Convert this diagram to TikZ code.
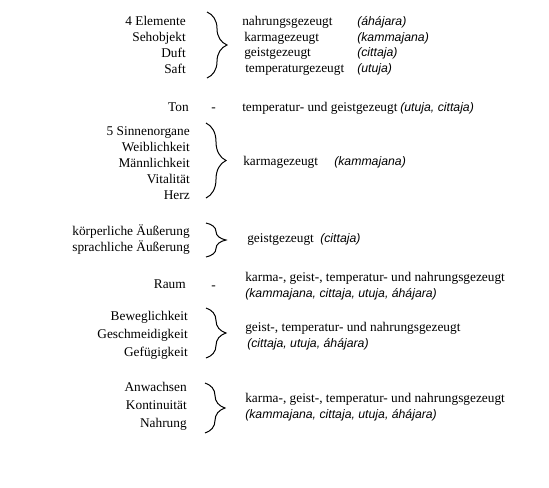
\documentclass[tikz,border=0pt]{standalone}
\usepackage{fontspec}
\setmainfont{Liberation Serif}
\newfontfamily\kursiv{Liberation Sans}
\usetikzlibrary{positioning,decorations.pathreplacing}

\begin{document}
\begin{tikzpicture}[x=.75pt,y=-.75pt,
    links/.style={anchor=mid east,inner sep=0pt,font=\fontsize{10}{12}\selectfont},
    rechts/.style={anchor=mid west,inner sep=0pt,font=\fontsize{10}{12}\selectfont},
    klammer/.style={decorate,decoration={brace,amplitude=15pt},line width=.75pt}]
    \newcommand{\pali}[1]{{\kursiv\itshape\fontsize{9.2}{11}\selectfont #1}}
    \useasboundingbox (0,0) rectangle (549,487);
    % Gruppe 1
    \foreach \t [count=\i] in {4 Elemente,Sehobjekt,Duft,Saft}
      \node[links] (a\i) at (186,6+16*\i) {\t};
    \node[rechts] (b1) at (242,22) {nahrungsgezeugt};
    \node[rechts] (b2) at (244,38) {karmagezeugt};
    \node[rechts] (b3) at (244,53) {geistgezeugt};
    \node[rechts] (b4) at (245,69) {temperaturgezeugt};
    \foreach \t/\y [count=\i] in {(áhájara)/22,(kammajana)/38,(cittaja)/53,(utuja)/69}
      \node[rechts] (p\i) at (357,\y) {\pali{\t}};
    \coordinate (k1o) at (207,12); \coordinate (k1u) at (207,78);
    \draw[klammer] (k1o) -- (k1u);
    % Ton
    \node[links] (ton) at (189,108) {Ton};
    \node[rechts] (s1) at (211,108) {-};
    \node[rechts] (ton r) at (242,108) {temperatur- und geistgezeugt};
    \node[rechts] (ton p) at (400,108) {\pali{(utuja, cittaja)}};
    % Gruppe 3
    \foreach \t [count=\i] in {5 Sinnenorgane,Weiblichkeit,M\"annlichkeit,Vitalit\"at,Herz}
      \node[links] (c\i) at (190,116+16*\i) {\t};
    \node[rechts] (d) at (243,162) {karmagezeugt};
    \node[rechts] (d p) at (334,162) {\pali{(kammajana)}};
    \coordinate (k3o) at (206,123); \coordinate (k3u) at (206,198);
    \draw[klammer] (k3o) -- (k3u);
    % Gruppe 4
    \node[links] (e1) at (190,232) {k\"orperliche \"Au\ss erung};
    \node[links] (e2) at (190,248) {sprachliche \"Au\ss erung};
    \node[rechts] (f) at (247,239) {geistgezeugt};
    \node[rechts] (f p) at (320,239) {\pali{(cittaja)}};
    \coordinate (k4o) at (206,223); \coordinate (k4u) at (206,257);
    \draw[klammer] (k4o) -- (k4u);
    % Raum
    \node[links] (raum) at (186,285) {Raum};
    \node[rechts] (s2) at (211,286) {-};
    \node[rechts] (raum r) at (245,278) {karma-, geist-, temperatur- und nahrungsgezeugt};
    \node[rechts] (raum p) at (245,294) {\pali{(kammajana, cittaja, utuja, áhájara)}};
    % Gruppe 6
    \foreach \t [count=\i] in {Beweglichkeit,Geschmeidigkeit,Gef\"ugigkeit}
      \node[links] (g\i) at (188,299+18*\i) {\t};
    \node[rechts] (h) at (245,328) {geist-, temperatur- und nahrungsgezeugt};
    \node[rechts] (h p) at (247,344) {\pali{(cittaja, utuja, áhájara)}};
    \coordinate (k6o) at (206,308); \coordinate (k6u) at (206,358);
    \draw[klammer] (k6o) -- (k6u);
    % Gruppe 7
    \foreach \t [count=\i] in {Anwachsen,Kontinuit\"at,Nahrung}
      \node[links] (m\i) at (187,370+18*\i) {\t};
    \node[rechts] (n) at (245,399) {karma-, geist-, temperatur- und nahrungsgezeugt};
    \node[rechts] (n p) at (245,415) {\pali{(kammajana, cittaja, utuja, áhájara)}};
    \coordinate (k7o) at (205,383); \coordinate (k7u) at (205,433);
    \draw[klammer] (k7o) -- (k7u);
\end{tikzpicture}
\end{document}
